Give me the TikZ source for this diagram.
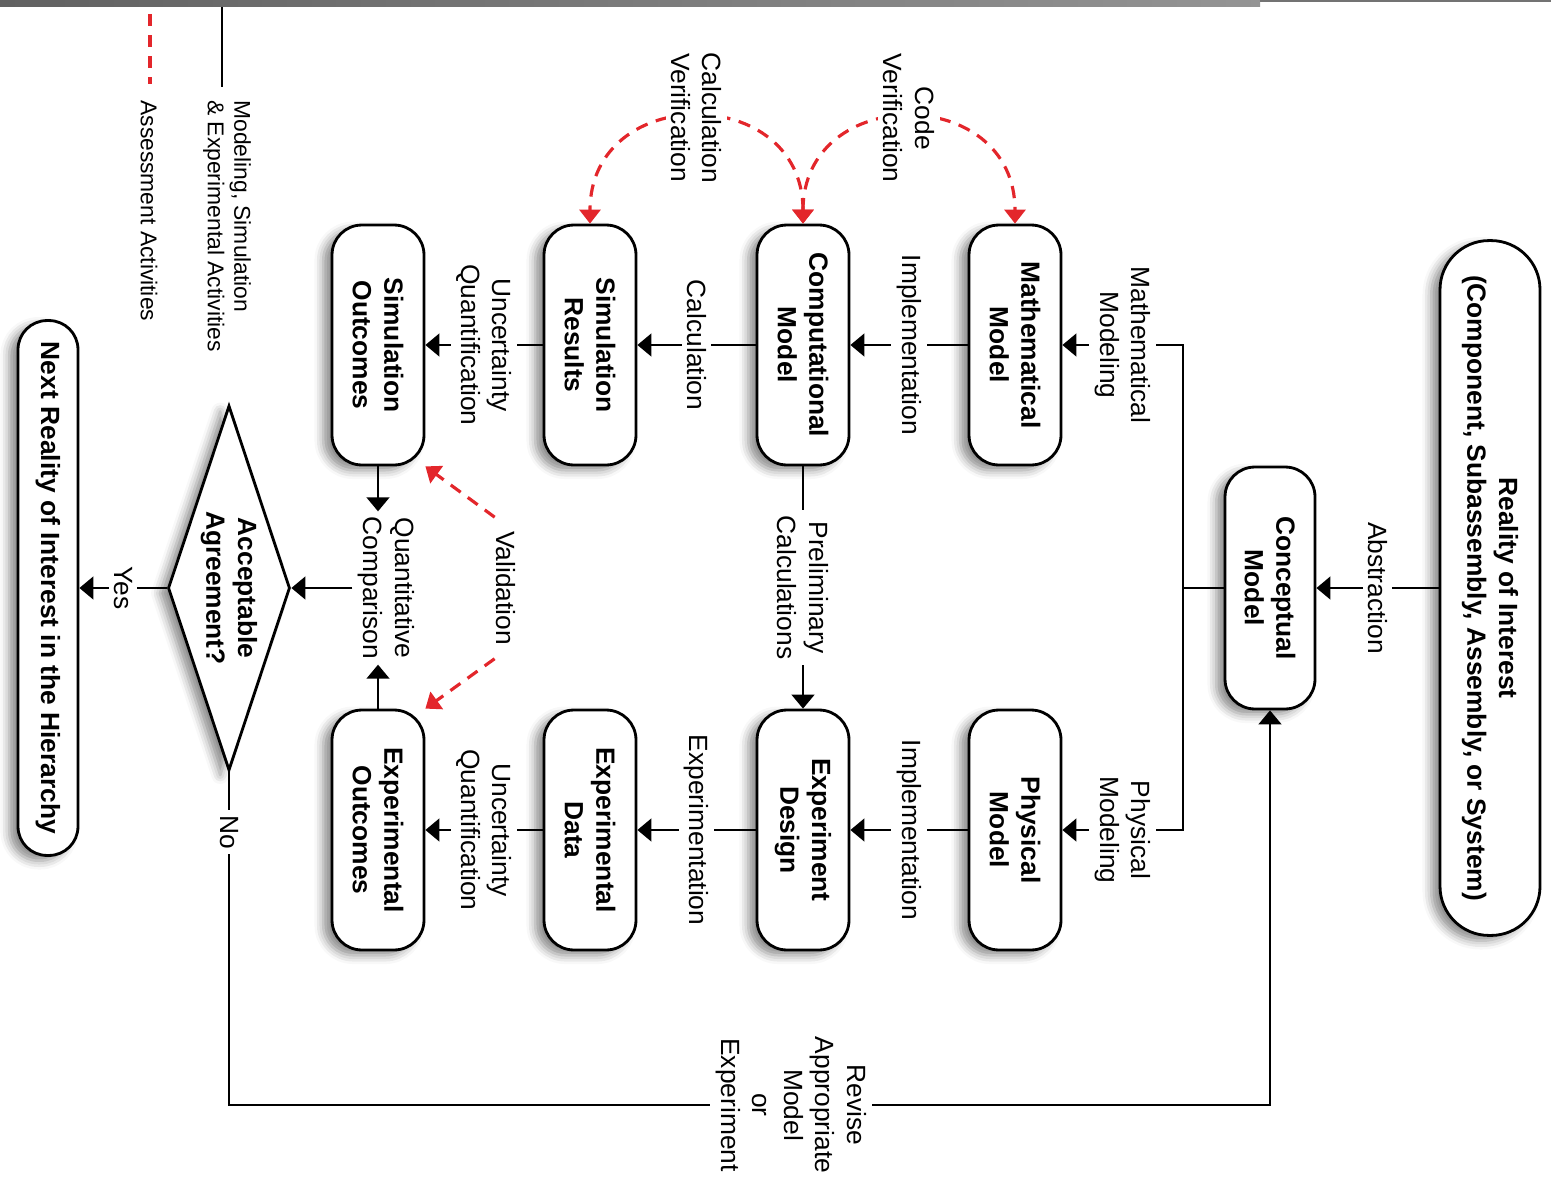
\documentclass[tikz,border=0pt]{standalone}
\usepackage{fontspec}
\setmainfont{Liberation Sans}
\usetikzlibrary{shapes.geometric, arrows.meta, positioning, shadows.blur}
\definecolor{assessred}{HTML}{E3262B}

\begin{document}
\begin{tikzpicture}[
    x=0.02cm, y=0.02cm,
    every node/.style={font=\fontsize{15}{18}\selectfont},
    boxshadow/.style={blur shadow={shadow xshift=-5pt, shadow yshift=-3pt, shadow blur radius=5pt, shadow opacity=45}},
    box/.style={rectangle, rounded corners=17pt, draw, line width=1.6pt, fill=white, rotate=-90, minimum width=4.8cm, minimum height=1.84cm, inner sep=2pt, align=center, font=\fontsize{15}{18}\selectfont\bfseries, boxshadow},
    lbl/.style={rotate=-90, align=center, fill=white, inner sep=3pt},
    legend/.style={rotate=-90, align=left, inner sep=0pt, font=\fontsize{13}{15}\selectfont},
    conn/.style={line width=1.3pt, -{Triangle[length=8pt,width=13pt]}},
    assess/.style={draw=assessred, line width=1.8pt, dash pattern=on 7pt off 5pt},
    redtip/.style={-{Triangle[length=8pt,width=12pt]}},
    redtips/.style={{Triangle[length=8pt,width=12pt]}-{Triangle[length=8pt,width=12pt]}}
]
    \useasboundingbox (0,0) rectangle (1551,-1176);

    % top bar
    \shade[left color=black!62, right color=black!42] (0,0) rectangle (1260,-7);
    \draw[black!55, line width=1pt] (1260,-1) -- (1551,-1);

    % legend
    \node[legend, anchor=west] (legassess) at (149,-100) {Assessment Activities};
    \node[legend, anchor=west] (legmse) at (227,-100) {Modeling, Simulation\\\& Experimental Activities};
    \draw[assess] (150,-14) -- (150,-84);
    \draw[line width=1.3pt] (222,-7) -- (222,-87);

    % reality and conceptual model
    \node[box, minimum width=13.9cm, minimum height=2cm, rounded corners=0.98cm] (reality) at (1490,-588) {Reality of Interest\\(Component, Subassembly, Assembly, or System)};
    \node[box, minimum width=4.84cm, minimum height=1.8cm] (concept) at (1270,-588) {Conceptual\\Model};

    % simulation branch
    \node[box] (math) at (1015,-345) {Mathematical\\Model};
    \node[box] (comp) at (803,-345) {Computational\\Model};
    \node[box] (simres) at (590,-345) {Simulation\\Results};
    \node[box] (simout) at (378,-345) {Simulation\\Outcomes};

    % experiment branch
    \node[box] (phys) at (1015,-830) {Physical\\Model};
    \node[box] (design) at (803,-830) {Experiment\\Design};
    \node[box] (expdata) at (590,-830) {Experimental\\Data};
    \node[box] (expout) at (378,-830) {Experimental\\Outcomes};

    % comparison
    \node[lbl, fill=none] (qc) at (386,-588) {Quantitative\\Comparison};
    \node[lbl, fill=none] (valid) at (506,-588) {Validation};
    \node[draw, line width=1.6pt, fill=white, shape=diamond, aspect=3, rotate=-90, minimum width=7.3cm, minimum height=2.44cm, inner sep=0pt, align=center, font=\fontsize{15}{18}\selectfont\bfseries, boxshadow] (agree) at (229,-588) {Acceptable\\Agreement?};
    \node[box, minimum width=10.7cm, minimum height=1.2cm, rounded corners=0.58cm] (next) at (48,-588) {Next Reality of Interest in the Hierarchy};

    \coordinate (split) at (1183,-588);
    \coordinate (nocorner) at (229,-1105);
    \coordinate (revcorner) at (1270,-1105);

    % modeling arrows
    \draw[conn] (reality) -- node[lbl] {Abstraction} (concept);
    \draw[line width=1.3pt] (concept) -- (split);
    \draw[conn] (split) |- node[lbl, pos=0.75] {Mathematical\\Modeling} (math);
    \draw[conn] (split) |- node[lbl, pos=0.75] {Physical\\Modeling} (phys);
    \draw[conn] (math) -- node[lbl] {Implementation} (comp);
    \draw[conn] (comp) -- node[lbl] {Calculation} (simres);
    \draw[conn] (simres) -- node[lbl] {Uncertainty\\Quantification} (simout);
    \draw[conn] (phys) -- node[lbl] {Implementation} (design);
    \draw[conn] (design) -- node[lbl] {Experimentation} (expdata);
    \draw[conn] (expdata) -- node[lbl] {Uncertainty\\Quantification} (expout);
    \draw[conn] (comp) -- node[lbl] {Preliminary\\Calculations} (design);

    % comparison arrows
    \draw[conn] (simout.east) -- (simout.east |- qc.west);
    \draw[conn] (expout.west) -- (expout.west |- qc.east);
    \draw[conn] (qc) -- (agree);
    \draw[conn] (agree) -- node[lbl] {Yes} (next);
    \draw[conn] (agree) -- node[lbl, pos=0.18] {No} (nocorner) -- node[lbl, pos=0.54] {Revise\\Appropriate\\Model\\or\\Experiment} (revcorner) -- (concept);

    % assessment activities
    \draw[assess, redtips] (comp.west) to[out=90, in=90, looseness=1.7] node[lbl] {Calculation\\Verification} (simres.west);
    \draw[assess, redtips] (comp.west) to[out=90, in=90, looseness=1.7] node[lbl] {Code\\Verification} (math.west);
    \draw[assess, redtip, shorten <=8pt] (valid.west) -- (simout.north east);
    \draw[assess, redtip, shorten <=8pt] (valid.east) -- (expout.north west);
\end{tikzpicture}
\end{document}
